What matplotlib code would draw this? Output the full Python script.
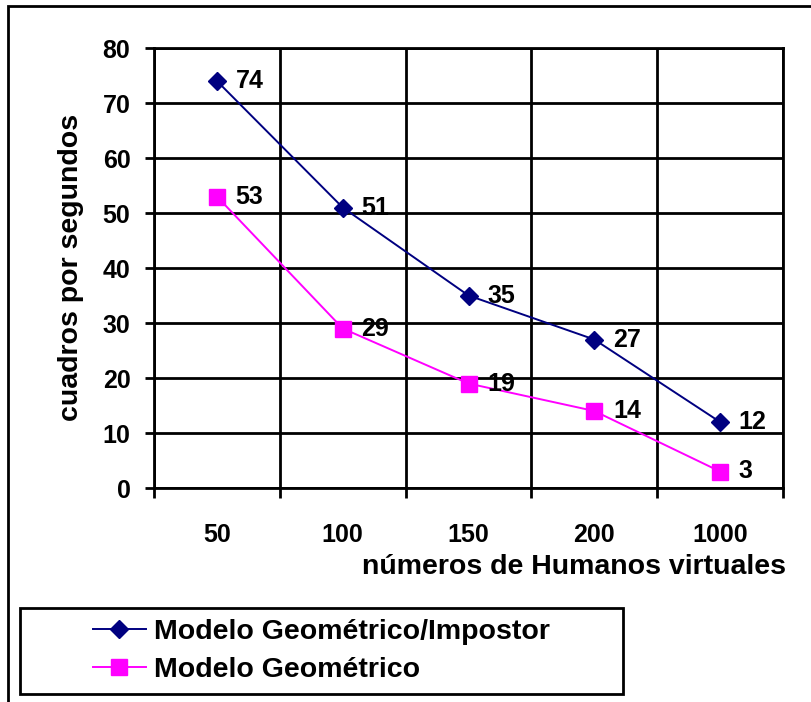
import matplotlib
matplotlib.use("Agg")
import matplotlib.pyplot as plt
from matplotlib.patches import Rectangle
from matplotlib.lines import Line2D

categories = ["50", "100", "150", "200", "1000"]
impostor = [74, 51, 35, 27, 12]
geometrico = [53, 29, 19, 14, 3]
series_names = ["Modelo Geométrico/Impostor", "Modelo Geométrico"]

plt.rcParams['font.family'] = ['Liberation Sans', 'DejaVu Sans']
plt.rcParams['font.weight'] = 'bold'

W, H = 811, 702
fig = plt.figure(figsize=(W / 100, H / 100), dpi=100)
ax = fig.add_axes([154/W, 1-488/H, 629/W, 440/H])

x = list(range(len(categories)))
ax.plot(x, impostor, color='#000080', lw=1.4, marker='D', ms=9, zorder=3)
ax.plot(x, geometrico, color='#FF00FF', lw=1.4, marker='s', ms=11, zorder=3)

# data labels to the right of each point
for series in (impostor, geometrico):
    for xi, v in zip(x, series):
        ax.annotate(str(v), (xi, v), xytext=(13.5, 0), textcoords='offset points',
                    va='center', ha='left', fontsize=18, fontweight='bold')

ax.set_xlim(-0.5, len(categories) - 0.5)
ax.set_ylim(0, 80)
ax.set_yticks(range(0, 81, 10))
ax.set_xticks(x)
ax.set_xticklabels(categories)
ax.set_xticks([i - 0.5 for i in range(len(categories) + 1)], minor=True)
ax.tick_params(axis='x', which='major', length=0, pad=25, labelsize=18)
ax.tick_params(axis='x', which='minor', length=7, width=2, direction='out')
ax.tick_params(axis='y', length=6.5, width=2, pad=10.5, labelsize=18)
ax.grid(True, axis='y', which='major', color='black', lw=2)
ax.grid(True, axis='x', which='minor', color='black', lw=2)
ax.set_axisbelow(True)
for s in ax.spines.values():
    s.set_linewidth(2)
    s.set_color('black')

fig.text(786/W, 1-574/H, "números de Humanos virtuales", ha='right', va='baseline',
         fontsize=20.5, fontweight='bold')
fig.text(71/W, 1-267/H, "cuadros por segundos", rotation=90, ha='center', va='center',
         fontsize=20.5, fontweight='bold')

# outer chart border (cropped on right/bottom)
fig.patches.append(Rectangle((8/W, -0.1), 1.2, 1.1 - 6/H, transform=fig.transFigure,
                             fill=False, edgecolor='black', lw=2))
# legend box
fig.patches.append(Rectangle((20/W, 1-694/H), 603/W, 86/H, transform=fig.transFigure,
                             fill=False, edgecolor='black', lw=2))
handles = [Line2D([], [], color='#000080', lw=1.4, marker='D', ms=9),
           Line2D([], [], color='#FF00FF', lw=1.4, marker='s', ms=11)]
fig.legend(handles, series_names, loc='center left', bbox_to_anchor=(93/W, 1-651/H),
           frameon=False, handlelength=1.86, handletextpad=0.3, borderpad=0,
           borderaxespad=0, labelspacing=0.4, prop={'weight': 'bold', 'size': 20.5})

fig.savefig("out.png", dpi=100)
